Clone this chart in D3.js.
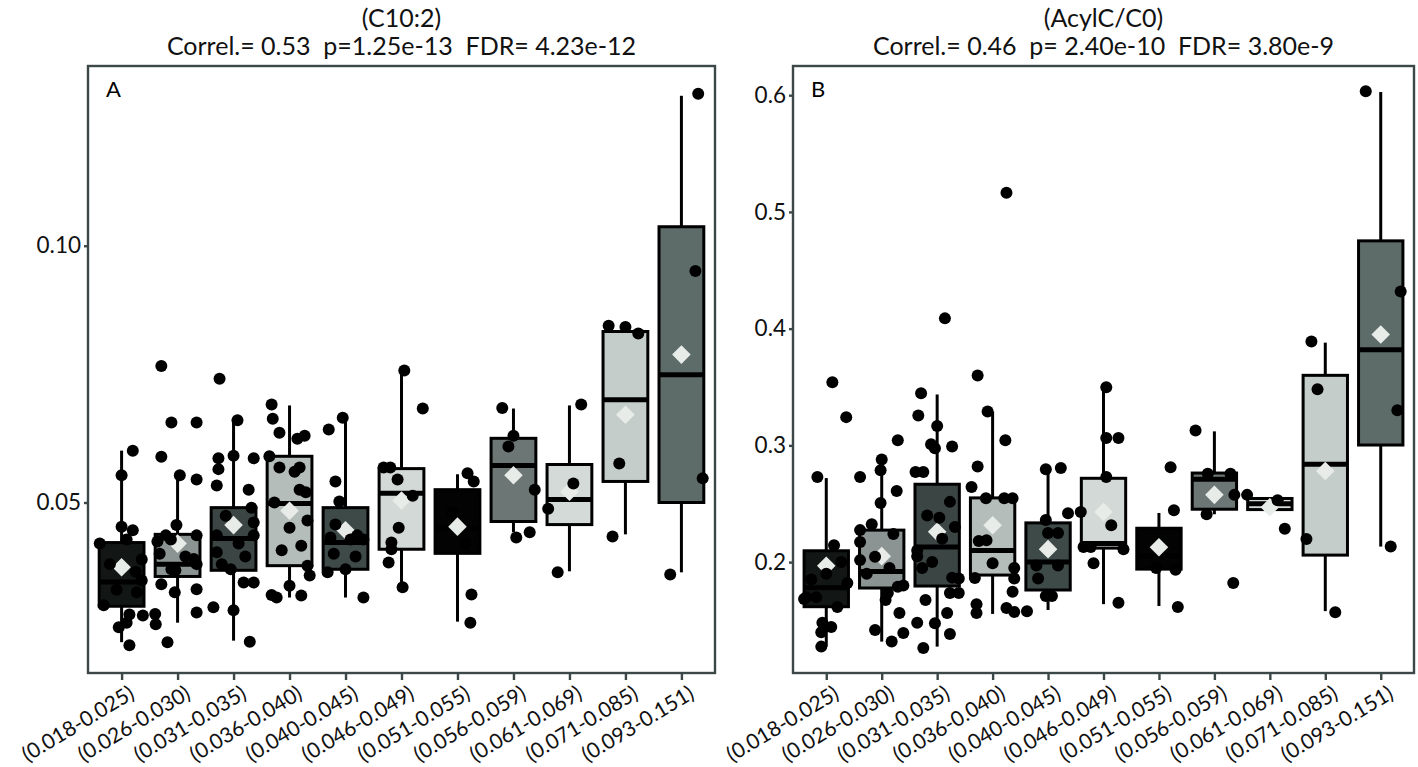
<!DOCTYPE html>
<html><head><meta charset="utf-8">
<script src="https://cdn.jsdelivr.net/npm/d3@7"></script>
<style>
html,body{margin:0;padding:0;background:#fff;}
svg{display:block;font-family:Lato,"Open Sans",sans-serif;}
</style></head>
<body><svg id="chart" width="1418" height="767"></svg>
<script>
// ---------- data ----------
const categories = ["(0.018-0.025)","(0.026-0.030)","(0.031-0.035)","(0.036-0.040)","(0.040-0.045)","(0.046-0.049)","(0.051-0.055)","(0.056-0.059)","(0.061-0.069)","(0.071-0.085)","(0.093-0.151)"];
const boxFills = ["#121716","#8b9492","#3b4644","#b5bdbb","#3e4a48","#d3d9d7","#030303","#6c7775","#d4dad8","#c5cdcb","#5e6c69"];

const titleA = ["(C10:2)", "Correl.= 0.53  p=1.25e-13  FDR= 4.23e-12"];
const titleB = ["(AcylC/C0)", "Correl.= 0.46  p= 2.40e-10  FDR= 3.80e-9"];
const ticksA = [0.05, 0.10];
const ticksB = [0.2, 0.3, 0.4, 0.5, 0.6];
const domainA = [0.0168, 0.1350];
const domainB = [0.105, 0.625];

const aQ1   = [0.0298,0.0356,0.0368,0.0377,0.0370,0.0409,0.0401,0.0463,0.0457,0.0541,0.0500];
const aMed  = [0.0345,0.0380,0.0430,0.0498,0.0422,0.0518,0.0450,0.0572,0.0506,0.0700,0.0749];
const aQ3   = [0.0422,0.0438,0.0490,0.0590,0.0490,0.0566,0.0525,0.0625,0.0574,0.0833,0.1037];
const aLo   = [0.0228,0.0266,0.0231,0.0315,0.0315,0.0335,0.0268,0.0442,0.0366,0.0438,0.0364];
const aHi   = [0.0601,0.0553,0.0660,0.0689,0.0665,0.0757,0.0555,0.0683,0.0689,0.0840,0.1292];
const aMean = [0.0374,0.0420,0.0456,0.0484,0.0446,0.0504,0.0453,0.0553,0.0521,0.0671,0.0788];

// jittered observations: [jitter offset in category units, value]
const aPoints = [
 [[0,.0553],[.2,.0601],[0,.0453],[.2,.0446],[-.39,.0420],[.09,.0428],[.36,.0389],[.36,.0348],[.27,.0325],[.14,.0282],[.09,.0266],[-.05,.0257],[.38,.0280],[.14,.0222],[-.21,.0380],[-.09,.0330],[.25,.0365],[-.32,.0300]],
 [[-.29,.0766],[-.11,.0656],[.34,.0656],[-.29,.0589],[.04,.0553],[.34,.0545],[-.02,.0456],[-.36,.0424],[-.21,.0436],[-.12,.0428],[.34,.0436],[.29,.0390],[.34,.0380],[-.11,.0370],[-.04,.0368],[-.29,.0341],[-.05,.0325],[.34,.0331],[-.4,.0283],[-.39,.0263],[.34,.0286],[-.18,.0228],[.14,.0395],[-.32,.0400]],
 [[-.25,.0741],[.07,.0660],[-.27,.0586],[-.27,.0565],[-.3,.0533],[0,.0591],[.36,.0586],[.27,.0525],[-.3,.0436],[-.3,.0403],[.36,.0461],[.36,.0436],[-.05,.0370],[.18,.0344],[.36,.0344],[-.36,.0296],[0,.0290],[.29,.0229],[-.14,.0474],[.09,.0420],[.21,.0395],[-.21,.0380],[.32,.0490]],
 [[-.32,.0691],[-.3,.0663],[-.18,.0636],[.27,.0630],[.14,.0624],[-.36,.0590],[-.18,.0568],[.18,.0568],[.18,.0525],[.29,.0520],[0,.0451],[.32,.0465],[-.14,.0407],[.21,.0416],[.32,.0377],[.36,.0358],[0,.0338],[-.23,.0315],[-.32,.0320],[.21,.0319],[-.27,.0500],[.09,.0560]],
 [[-.05,.0665],[-.3,.0642],[-.18,.0541],[-.11,.0502],[-.18,.0457],[-.27,.0432],[.09,.0428],[.32,.0428],[.21,.0436],[-.32,.0364],[0,.0370],[.32,.0315],[-.21,.0400],[.18,.0395]],
 [[.05,.0757],[.38,.0683],[-.32,.0568],[-.2,.0568],[-.07,.0545],[.2,.0513],[-.05,.0451],[-.18,.0422],[-.18,.0409],[-.23,.0383],[.02,.0335]],
 [[.18,.0557],[.29,.0541],[.25,.0321],[.23,.0266],[-.09,.0480],[.14,.0420]],
 [[-.2,.0684],[0,.0630],[-.09,.0609],[.38,.0525],[.05,.0432],[.29,.0442]],
 [[.21,.0691],[.07,.0537],[-.38,.0488],[-.21,.0364]],
 [[-.3,.0844],[0,.0842],[.23,.0829],[-.11,.0576],[-.23,.0434]],
 [[.3,.1296],[.25,.0951],[.38,.0547],[-.2,.0360]]
];

const bQ1   = [0.1618,0.1778,0.1795,0.1889,0.1761,0.2120,0.1940,0.2453,0.2450,0.2060,0.3003];
const bMed  = [0.1780,0.1920,0.2130,0.2100,0.2000,0.2160,0.2050,0.2710,0.2500,0.2838,0.3820];
const bQ3   = [0.2097,0.2274,0.2667,0.2550,0.2336,0.2718,0.2290,0.2763,0.2545,0.3600,0.4752];
const bLo   = [0.1276,0.1319,0.1276,0.1556,0.1590,0.1640,0.1624,0.2410,0.2450,0.1580,0.2133];
const bHi   = [0.2720,0.2880,0.3436,0.3290,0.2795,0.3498,0.2421,0.3120,0.2545,0.3880,0.6027];
const bMean = [0.1968,0.2051,0.2259,0.2316,0.2111,0.2430,0.2128,0.2576,0.2470,0.2780,0.3950];

const bPoints = [
 [[-.16,.2729],[.11,.3541],[.36,.3242],[.14,.2145],[-.4,.1684],[-.36,.1700],[.2,.1615],[-.07,.1480],[.09,.1444],[-.09,.1400],[-.09,.1276],[.38,.1820],[-.18,.1700],[.27,.2000],[0,.1900],[-.27,.1850]],
 [[0,.2880],[-.02,.2786],[-.39,.2729],[.27,.2609],[-.02,.2507],[.29,.3043],[-.39,.2274],[-.18,.2325],[.21,.2240],[-.39,.2173],[-.39,.2017],[-.12,.2045],[.29,.1789],[.39,.1800],[.11,.1735],[.07,.1675],[.32,.1564],[-.12,.1419],[.18,.1319],[.39,.1393],[-.27,.1900],[.14,.1950]],
 [[-.29,.3447],[-.34,.3256],[0,.3165],[-.11,.3009],[-.04,.2975],[.27,.2991],[-.39,.2772],[-.25,.2772],[.23,.2516],[-.18,.2400],[.04,.2380],[-.36,.2100],[-.27,.1950],[-.09,.2000],[-.36,.2050],[.27,.1867],[.39,.1860],[.23,.1735],[.39,.1735],[-.21,.1675],[.18,.1564],[-.36,.1480],[-.04,.1476],[.23,.1385],[-.25,.1265],[.14,.4088],[.09,.2200],[.32,.2300]],
 [[-.27,.3598],[-.09,.3290],[.23,.3043],[-.27,.2820],[-.38,.2644],[-.12,.2547],[.21,.2547],[.36,.2547],[-.25,.2180],[-.11,.2188],[0,.1990],[.39,.1950],[.39,.1860],[-.32,.1863],[.36,.1746],[-.29,.1640],[-.29,.1564],[.25,.1607],[.39,.1573],[.25,.5165]],
 [[-.04,.2795],[.23,.2806],[.36,.2419],[-.04,.2360],[0,.2250],[.18,.2250],[-.21,.1970],[.18,.1970],[-.04,.1710],[.07,.1710],[-.38,.1580],[-.18,.1860]],
 [[.05,.3498],[.05,.3064],[.27,.3064],[.05,.2729],[-.41,.2430],[.14,.2316],[-.36,.2130],[-.23,.2130],[-.18,.1990],[.27,.1652],[.36,.2110]],
 [[.21,.2812],[.27,.2444],[.3,.1935],[.34,.1615],[-.05,.1950]],
 [[-.34,.3128],[-.12,.2756],[.29,.2756],[.36,.2576],[-.14,.2410],[.34,.1820]],
 [[-.41,.2576],[.14,.2530],[.27,.2286]],
 [[-.25,.3890],[-.14,.3480],[-.34,.2197],[.18,.1570]],
 [[-.27,.6034],[.36,.4318],[.3,.3300],[.18,.2133]]
];

// ---------- drawing ----------
const svg = d3.select("#chart");
const frameColor = "#3b4847";

function panel(opt) {
  const {left, right, top, bottom, title, label, domain, ticks, fmt, q1, med, q3, lo, hi, mean, pts} = opt;
  const x = d3.scalePoint().domain(categories).range([left, right]).padding(0.6);
  const y = d3.scaleLinear().domain(domain).range([bottom, top]);
  const step = x.step();
  const bw = step * 0.8;
  const g = svg.append("g");

  // titles
  g.append("text").attr("x", (left + right) / 2).attr("y", 27).attr("text-anchor", "middle")
    .attr("font-size", 25).attr("fill", "#111").text(title[0]);
  g.append("text").attr("x", (left + right) / 2).attr("y", 55).attr("text-anchor", "middle")
    .attr("font-size", 25).attr("fill", "#111").style("white-space", "pre").text(title[1]);

  g.append("rect").attr("x", left).attr("y", top).attr("width", right - left).attr("height", bottom - top)
    .attr("fill", "#fff");

  // whiskers
  categories.forEach((c, i) => {
    const cx = x(c);
    g.append("line").attr("x1", cx).attr("x2", cx).attr("y1", y(hi[i])).attr("y2", y(q3[i]))
      .attr("stroke", "#000").attr("stroke-width", 3);
    g.append("line").attr("x1", cx).attr("x2", cx).attr("y1", y(q1[i])).attr("y2", y(lo[i]))
      .attr("stroke", "#000").attr("stroke-width", 3);
  });
  // boxes
  categories.forEach((c, i) => {
    const cx = x(c);
    g.append("rect").attr("x", cx - bw / 2).attr("y", y(q3[i])).attr("width", bw)
      .attr("height", Math.max(0.5, y(q1[i]) - y(q3[i])))
      .attr("fill", boxFills[i]).attr("stroke", "#000").attr("stroke-width", 3);
    g.append("line").attr("x1", cx - bw / 2).attr("x2", cx + bw / 2).attr("y1", y(med[i])).attr("y2", y(med[i]))
      .attr("stroke", "#000").attr("stroke-width", 5);
  });
  // mean diamonds
  const diamond = d3.symbol().type(d3.symbolDiamond2).size(220);
  categories.forEach((c, i) => {
    g.append("path").attr("d", diamond).attr("transform", `translate(${x(c)},${y(mean[i])})`)
      .attr("fill", "#e8ece9");
  });
  // points
  categories.forEach((c, i) => {
    pts[i].forEach(p => {
      g.append("circle").attr("cx", x(c) + p[0] * step).attr("cy", y(p[1])).attr("r", 6).attr("fill", "#000");
    });
  });

  // frame
  g.append("rect").attr("x", left).attr("y", top).attr("width", right - left).attr("height", bottom - top)
    .attr("fill", "none").attr("stroke", frameColor).attr("stroke-width", 2.4);

  // panel letter
  g.append("text").attr("x", left + 18).attr("y", top + 31).attr("font-size", 22).attr("fill", "#000").text(label);

  // y axis
  const ya = g.append("g").attr("transform", `translate(${left},0)`)
    .call(d3.axisLeft(y).tickValues(ticks).tickFormat(fmt).tickSize(4).tickPadding(3));
  ya.select(".domain").remove();
  ya.selectAll(".tick line").attr("stroke", frameColor).attr("stroke-width", 2.4);
  ya.selectAll(".tick text").attr("font-size", 22.5).attr("fill", "#111").attr("font-family", "Lato, sans-serif");

  // x axis
  const xa = g.append("g").attr("transform", `translate(0,${bottom})`)
    .call(d3.axisBottom(x).tickSize(7).tickPadding(0));
  xa.select(".domain").remove();
  xa.selectAll(".tick line").attr("stroke", frameColor).attr("stroke-width", 2.4);
  xa.selectAll(".tick text").attr("font-size", 21).attr("fill", "#111").attr("font-family", "Lato, sans-serif")
    .attr("text-anchor", "end").attr("dy", null).attr("y", 0)
    .attr("transform", "translate(5,10) rotate(-31)").attr("dominant-baseline", "hanging");
}

panel({left: 88, right: 715, top: 66, bottom: 673, title: titleA, label: "A", domain: domainA,
  ticks: ticksA, fmt: d3.format(".2f"), q1: aQ1, med: aMed, q3: aQ3, lo: aLo, hi: aHi, mean: aMean, pts: aPoints});
panel({left: 793, right: 1414, top: 66, bottom: 673, title: titleB, label: "B", domain: domainB,
  ticks: ticksB, fmt: d3.format(".1f"), q1: bQ1, med: bMed, q3: bQ3, lo: bLo, hi: bHi, mean: bMean, pts: bPoints});
</script></body></html>
